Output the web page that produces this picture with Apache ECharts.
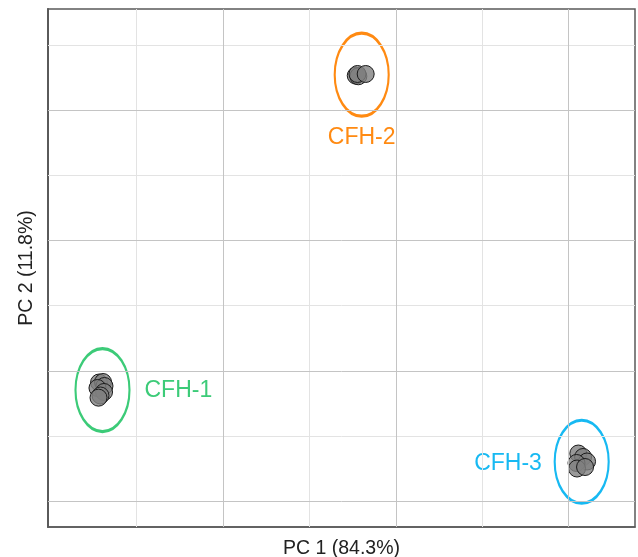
<!DOCTYPE html>
<html>
<head>
<meta charset="utf-8">
<script src="https://cdn.jsdelivr.net/npm/echarts@6/dist/echarts.min.js"></script>
<style>html,body{margin:0;padding:0;background:#fff}#c{width:638px;height:557px}</style>
</head>
<body>
<div id="c"></div>
<script>
// Sample scores (PC1, PC2) per group, in chart units
var cfh1 = [[0.564,2.822],[0.610,2.830],[0.627,2.769],[0.546,2.738],[0.622,2.677],[0.581,2.623],[0.558,2.590]];
var cfh2 = [[3.535,7.530],[3.565,7.520],[3.555,7.555],[3.650,7.555]];
var cfh3 = [[6.111,1.733],[6.166,1.680],[6.212,1.611],[6.090,1.588],[6.096,1.503],[6.189,1.526]];
// Group ellipse centres
var groupNames = ['CFH-1','CFH-2','CFH-3'];
var ellipseCenters = [[0.604,2.707],[3.604,7.544],[6.150,1.607]];
var labelPositions = [[1.482,2.692],[3.604,6.584],[5.297,1.577]];
var groupColors = ['#3CCB78','#FF8A12','#17B9F2'];
// Grid lines
var xGridMinor = [1,3,5];
var xGridMajor = [2,4,6];
var yGridMinor = [2,4,6,8];
var yGridMajor = [1,3,5,7];
var xTitle = 'PC 1 (84.3%)';
var yTitle = 'PC 2 (11.8%)';

var chart = echarts.init(document.getElementById('c'));
var FONT = '"Liberation Sans", Arial, Helvetica, sans-serif';

function gridLines() {
  var d = [];
  xGridMinor.forEach(function(v){ d.push({xAxis:v, lineStyle:{color:'#e3e3e3'}}); });
  yGridMinor.forEach(function(v){ d.push({yAxis:v, lineStyle:{color:'#e3e3e3'}}); });
  xGridMajor.forEach(function(v){ d.push({xAxis:v, lineStyle:{color:'#c4c4c4'}}); });
  yGridMajor.forEach(function(v){ d.push({yAxis:v, lineStyle:{color:'#c4c4c4'}}); });
  return d;
}

var pointStyle = {color:'rgba(128,128,128,0.8)', borderColor:'#1a1a1a', borderWidth:1, opacity:1};

chart.setOption({
  animation:false,
  backgroundColor:'#fff',
  grid:{left:48, right:3, top:9, bottom:30, outerBoundsMode:'none', containLabel:false, show:true, borderColor:'#5a5a5a', borderWidth:1.5, backgroundColor:'transparent'},
  xAxis:{type:'value', min:-0.0266, max:6.767, splitLine:{show:false}, axisTick:{show:false}, axisLabel:{show:false},
    axisLine:{show:true, onZero:false, lineStyle:{color:'#5a5a5a', width:1.5}},
    name:xTitle, nameLocation:'middle', nameGap:12, nameTextStyle:{fontFamily:FONT, fontSize:19.5, color:'#222'}},
  yAxis:{type:'value', min:0.606, max:8.552, splitLine:{show:false}, axisTick:{show:false}, axisLabel:{show:false},
    axisLine:{show:true, onZero:false, lineStyle:{color:'#5a5a5a', width:2}},
    name:yTitle, nameLocation:'middle', nameGap:11, nameTextStyle:{fontFamily:FONT, fontSize:19.5, color:'#222'}},
  series:[
    {type:'scatter', data:[], silent:true, z:1,
     markLine:{silent:true, symbol:'none', label:{show:false}, lineStyle:{type:'solid', width:1}, data:gridLines()}},
    {type:'scatter', name:'CFH-1', data:cfh1, symbol:'circle', symbolSize:17, itemStyle:pointStyle, z:3},
    {type:'scatter', name:'CFH-2', data:cfh2, symbol:'circle', symbolSize:17, itemStyle:pointStyle, z:3},
    {type:'scatter', name:'CFH-3', data:cfh3, symbol:'circle', symbolSize:17, itemStyle:pointStyle, z:3},
    {type:'scatter', name:'ellipses', symbol:'circle', symbolSize:[54,83], z:2,
     data: ellipseCenters.map(function(c,i){ return {value:c, itemStyle:{color:'rgba(0,0,0,0)', opacity:1, borderColor:groupColors[i], borderWidth:2.6}}; })},
    {type:'scatter', name:'labels', symbolSize:0, z:4, itemStyle:{opacity:1},
     data: labelPositions.map(function(c,i){ return {value:c, name:groupNames[i], itemStyle:{opacity:1},
       label:{show:true, position:'inside', formatter:groupNames[i], color:groupColors[i], opacity:1, fontFamily:FONT, fontSize:23}}; })}
  ]
});
</script>
</body>
</html>
